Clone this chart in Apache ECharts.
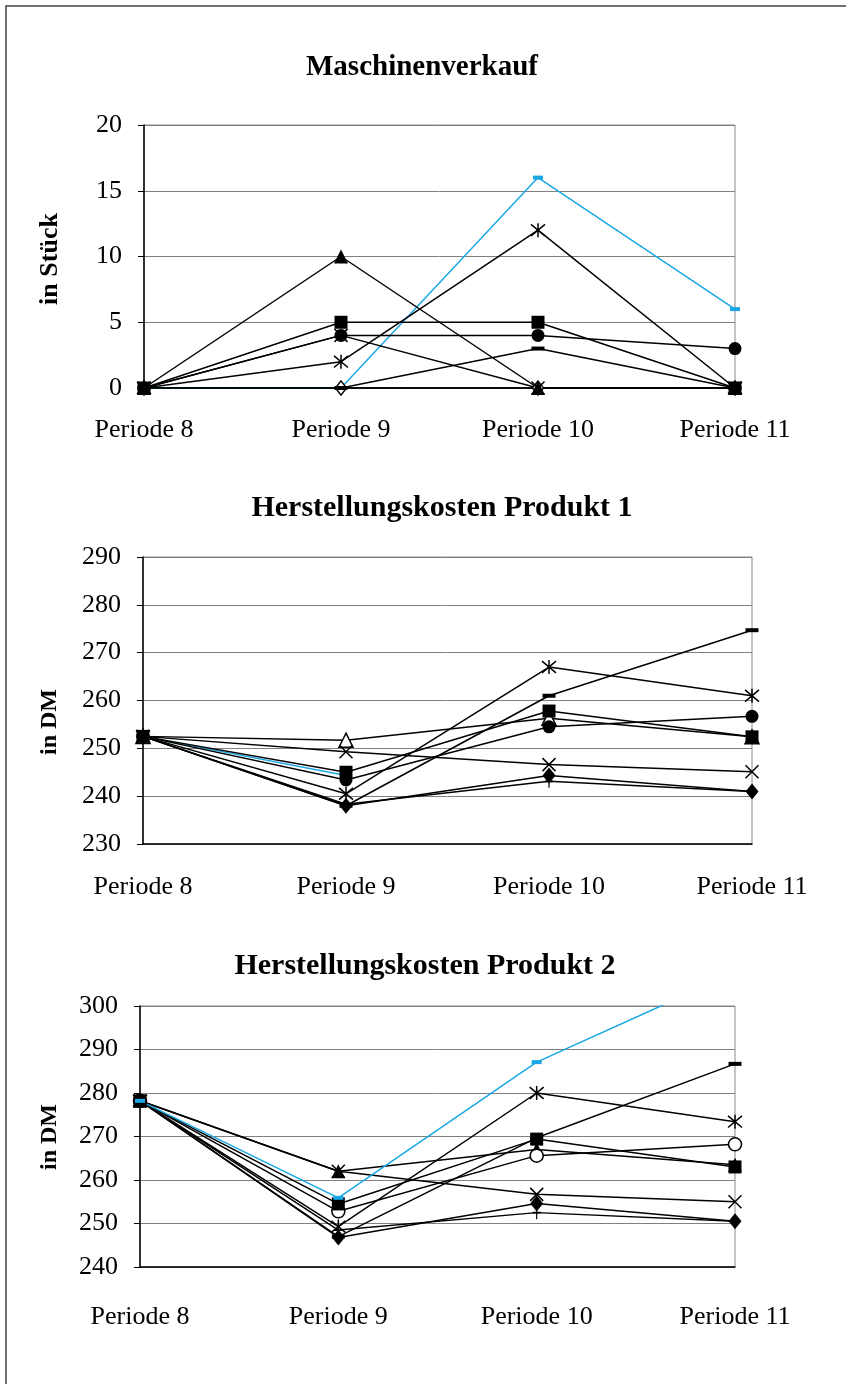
<!DOCTYPE html>
<html><head><meta charset="utf-8">
<script src="https://cdn.jsdelivr.net/npm/echarts@6/dist/echarts.min.js"></script>
<style>html,body{margin:0;padding:0;background:#fff}#c{width:846px;height:1384px}</style>
</head><body><div id="c"></div>
<script>
// ---- data ----
var categories = ['Periode 8', 'Periode 9', 'Periode 10', 'Periode 11'];
var titles = ['Maschinenverkauf', 'Herstellungskosten Produkt 1', 'Herstellungskosten Produkt 2'];
var yNames = ['in Stück', 'in DM', 'in DM'];

// Maschinenverkauf (Stück)
var m_blue = [0, 0, 16, 6];
var m_diamondOpen = [0, 0, 0, 0];
var m_dash = [0, 0, 3, 0];
var m_x = [0, 4, 0, 0];
var m_asterisk = [0, 2, 12, 0];
var m_circle = [0, 4, 4, 3];
var m_triangle = [0, 10, 0, 0];
var m_square = [0, 5, 5, 0];

// Herstellungskosten Produkt 1 (DM)
var p1_blue = [252.5, 244.3, null, null];
var p1_triangleOpen = [252.5, 251.7, 256.3, 252.4];
var p1_x = [252.5, 249.3, 246.6, 245.1];
var p1_circle = [252.5, 243.4, 254.5, 256.7];
var p1_asterisk = [252.5, 240.5, 267.0, 261.0];
var p1_dash = [252.5, 238.0, 261.0, 274.7];
var p1_plus = [252.5, 238.3, 243.1, 241.0];
var p1_diamond = [252.5, 238.0, 244.3, 241.0];
var p1_square = [252.5, 245.0, 257.8, 252.4];

// Herstellungskosten Produkt 2 (DM)
var p2_x = [278.2, 262.0, 256.7, 255.0];
var p2_triangle = [278.2, 262.0, 267.0, 263.5];
var p2_circleOpen = [278.2, 252.8, 265.6, 268.2];
var p2_asterisk = [278.2, 249.3, 280.0, 273.4];
var p2_plus = [278.2, 248.5, 252.5, 250.5];
var p2_dash = [278.2, 247.0, 269.7, 286.7];
var p2_diamond = [278.2, 246.8, 254.6, 250.5];
var p2_square = [278.2, 254.5, 269.4, 263.0];
var p2_blue = [278.2, 255.9, 287.1, 307.7];

var yMin = [0, 230, 240], yMax = [20, 290, 300], yStep = [5, 10, 10];

// ---- styling ----
var FONT = 'Liberation Serif';
var BLUE = '#1AA7E5';
var markers = {
  triangle: {symbol: 'triangle', size: 14},
  triangleOpen: {symbol: 'triangle', size: 14, open: true},
  square: {symbol: 'rect', size: 13},
  circle: {symbol: 'circle', size: 13},
  circleOpen: {symbol: 'circle', size: 13, open: true},
  diamond: {symbol: 'diamond', size: [13, 16]},
  diamondOpen: {symbol: 'diamond', size: [11, 14], open: true},
  x: {symbol: 'path://M0,0L10,10M10,0L0,10', size: 13, stroke: true},
  asterisk: {symbol: 'path://M0,0L10,10M10,0L0,10M5,-1L5,11', size: 14, stroke: true},
  plus: {symbol: 'path://M5,0L5,10M2,5L8,5', size: [8, 13], stroke: true},
  dash: {symbol: 'rect', size: [13, 4]},
  blue: {symbol: 'rect', size: [10, 4], blue: true}
};

var chartsSeries = [
  [['blue', m_blue], ['diamondOpen', m_diamondOpen], ['dash', m_dash], ['x', m_x], ['asterisk', m_asterisk],
   ['circle', m_circle], ['triangle', m_triangle], ['square', m_square]],
  [['blue', p1_blue], ['triangleOpen', p1_triangleOpen], ['x', p1_x], ['circle', p1_circle],
   ['asterisk', p1_asterisk], ['dash', p1_dash], ['plus', p1_plus], ['diamond', p1_diamond], ['square', p1_square]],
  [['x', p2_x], ['triangle', p2_triangle], ['circleOpen', p2_circleOpen], ['asterisk', p2_asterisk],
   ['plus', p2_plus], ['dash', p2_dash], ['diamond', p2_diamond], ['square', p2_square], ['blue', p2_blue]]
];

// layout
var grids = [
  {left: 144, top: 125, width: 591, height: 263},
  {left: 143, top: 557, width: 609, height: 287},
  {left: 140, top: 1006, width: 595, height: 261}
];
var titlePos = [[422, 68], [442, 508], [425, 966]];
var titleSize = [29, 30, 30];
var yNamePos = [[50, 259], [50, 722], [50, 1137]];
var yNameSize = [26, 24, 24];
var xLabelMargin = [29, 30, 37];

var option = {
  animation: false,
  grid: [], xAxis: [], yAxis: [], series: [],
  graphic: [{
    type: 'rect', shape: {x: 6, y: 6, width: 900, height: 1400},
    style: {fill: 'none', stroke: '#444', lineWidth: 1.5}, silent: true
  }]
};

for (var i = 0; i < 3; i++) {
  var g = grids[i];
  option.grid.push({left: g.left, top: g.top, width: g.width, height: g.height,
    show: true, borderColor: '#8a8a8a', borderWidth: 1, containLabel: false});
  option.xAxis.push({
    type: 'category', gridIndex: i, data: categories, boundaryGap: false,
    axisLine: {lineStyle: {color: '#000', width: 1.5}},
    axisTick: {show: false},
    axisLabel: {color: '#000', fontFamily: FONT, fontSize: 26, margin: xLabelMargin[i]},
    splitLine: {show: false}
  });
  option.yAxis.push({
    type: 'value', gridIndex: i, min: yMin[i], max: yMax[i], interval: yStep[i],
    axisLine: {show: true, lineStyle: {color: '#000', width: 1.5}},
    axisTick: {show: true, inside: false, length: 6, lineStyle: {color: '#000'}},
    axisLabel: {color: '#000', fontFamily: FONT, fontSize: 26, margin: 22},
    splitLine: {show: true, lineStyle: {color: '#808080', width: 1}}
  });
  option.graphic.push({
    type: 'text', x: titlePos[i][0], y: titlePos[i][1], silent: true,
    style: {text: titles[i], fill: '#000', font: 'bold ' + titleSize[i] + 'px "' + FONT + '"',
      textAlign: 'center', textVerticalAlign: 'middle'}
  });
  option.graphic.push({
    type: 'text', x: yNamePos[i][0], y: yNamePos[i][1], rotation: Math.PI / 2, silent: true,
    style: {text: yNames[i], fill: '#000', font: 'bold ' + yNameSize[i] + 'px "' + FONT + '"',
      textAlign: 'center', textVerticalAlign: 'middle'}
  });
  chartsSeries[i].forEach(function (s) {
    var mk = markers[s[0]];
    var col = mk.blue ? BLUE : '#000';
    option.series.push({
      type: 'line', xAxisIndex: i, yAxisIndex: i, data: s[1],
      symbol: mk.symbol, symbolSize: mk.size, showSymbol: true, connectNulls: false,
      clip: true,
      lineStyle: {color: col, width: 1.5},
      itemStyle: {
        color: mk.open ? '#fff' : col,
        borderColor: col,
        borderWidth: (mk.open || mk.stroke) ? 1.5 : 0,
        opacity: 1
      },
      emphasis: {disabled: true}
    });
  });
}

var chart = echarts.init(document.getElementById('c'), null, {renderer: 'canvas'});
chart.setOption(option);
</script>
</body></html>
